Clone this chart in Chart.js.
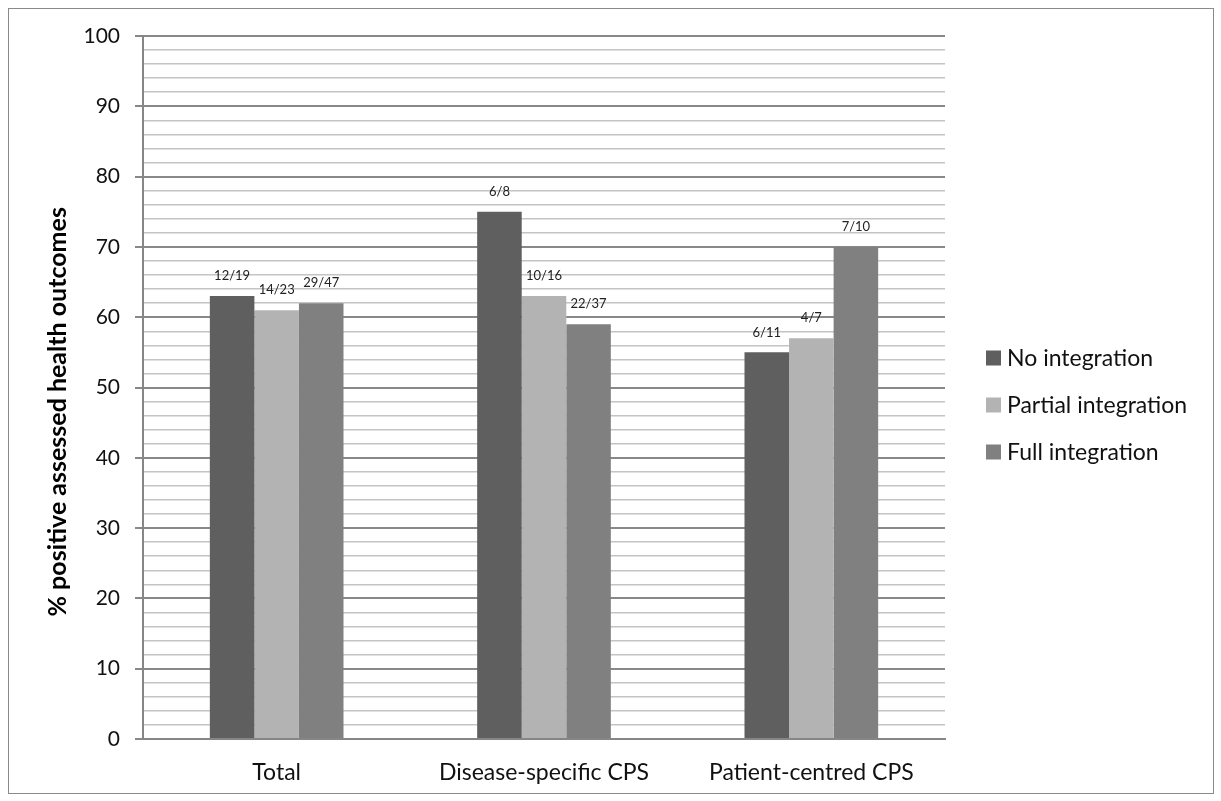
<!DOCTYPE html>
<html>
<head>
<meta charset="utf-8">
<script src="https://cdn.jsdelivr.net/npm/chart.js@4.4.1/dist/chart.umd.min.js"></script>
<style>
  html, body { margin: 0; padding: 0; background: #fff; }
  #wrap { position: relative; width: 1221px; height: 801px; }
  #frame { position: absolute; left: 8px; top: 8px; width: 1204px; height: 784px; border: 1px solid #8a8a8a; pointer-events: none; }
</style>
</head>
<body>
<div id="wrap">
  <canvas id="chart" width="1221" height="801"></canvas>
  <div id="frame"></div>
</div>
<script>
const categories = ["Total", "Disease-specific CPS", "Patient-centred CPS"];
const seriesNames = ["No integration", "Partial integration", "Full integration"];
const noIntegration = [63, 75, 55];
const partialIntegration = [61, 63, 57];
const fullIntegration = [62, 59, 70];
const noLabels = ["12/19", "6/8", "6/11"];
const partialLabels = ["14/23", "10/16", "4/7"];
const fullLabels = ["29/47", "22/37", "7/10"];
const colors = ["#5f5f5f", "#b3b3b3", "#808080"];

const FONT = "Lato, 'Open Sans', sans-serif";

// fraction labels above each bar
const barLabels = {
  id: "barLabels",
  afterDatasetsDraw(chart) {
    const ctx = chart.ctx;
    ctx.save();
    ctx.font = "13px " + FONT;
    ctx.fillStyle = "#222";
    ctx.textAlign = "center";
    ctx.textBaseline = "middle";
    chart.data.datasets.forEach((ds, i) => {
      chart.getDatasetMeta(i).data.forEach((bar, j) => {
        ctx.fillText(ds.fractions[j], bar.x, bar.y - 20);
      });
    });
    ctx.restore();
  }
};

// legend on the right, like the excel one
const sideLegend = {
  id: "sideLegend",
  afterDraw(chart) {
    const ctx = chart.ctx;
    ctx.save();
    ctx.font = "23px " + FONT;
    ctx.textBaseline = "middle";
    chart.data.datasets.forEach((ds, i) => {
      const y = 358 + i * 47;
      ctx.fillStyle = ds.backgroundColor;
      ctx.fillRect(986, y - 7.5, 15, 15);
      ctx.fillStyle = "#111";
      ctx.fillText(ds.label, 1007, y + 1);
    });
    ctx.restore();
  }
};

new Chart(document.getElementById("chart"), {
  type: "bar",
  data: {
    labels: categories,
    datasets: [
      { label: seriesNames[0], data: noIntegration, fractions: noLabels, backgroundColor: colors[0] },
      { label: seriesNames[1], data: partialIntegration, fractions: partialLabels, backgroundColor: colors[1] },
      { label: seriesNames[2], data: fullIntegration, fractions: fullLabels, backgroundColor: colors[2] }
    ]
  },
  options: {
    responsive: false,
    animation: false,
    layout: { padding: { top: 36, right: 276, left: 0, bottom: 0 } },
    datasets: { bar: { categoryPercentage: 0.5, barPercentage: 1.0 } },
    plugins: {
      legend: { display: false },
      tooltip: { enabled: false }
    },
    scales: {
      x: {
        grid: { display: false },
        border: { display: true, color: "#868686", width: 2 },
        ticks: { font: { family: FONT, size: 23 }, color: "#111", padding: 12, maxRotation: 0 },
        afterFit(scale) { scale.height = 62; }
      },
      y: {
        min: 0,
        max: 100,
        border: { display: true, color: "#868686", width: 2 },
        grid: {
          color: c => (c.tick && c.tick.value % 10 === 0) ? "#888888" : "#c4c4c4",
          lineWidth: c => (c.tick && c.tick.value % 10 === 0) ? 2 : 1.5,
          tickColor: c => (c.tick && c.tick.value % 10 === 0) ? "#888888" : "rgba(0,0,0,0)",
          tickLength: 8,
          tickWidth: 2
        },
        ticks: {
          stepSize: 2,
          autoSkip: false,
          padding: 15,
          font: { family: FONT, size: 21 },
          color: "#111",
          callback: v => (v % 10 === 0 ? v : "")
        },
        title: {
          display: true,
          // trailing spaces push the text a bit down, as in the original
          text: "% positive assessed health outcomes        ",
          font: { family: FONT, size: 25, weight: "bold" },
          color: "#000",
          padding: { top: 43, bottom: 0 }
        },
        afterFit(scale) { scale.width = 143; }
      }
    }
  },
  plugins: [barLabels, sideLegend]
});
</script>
</body>
</html>
